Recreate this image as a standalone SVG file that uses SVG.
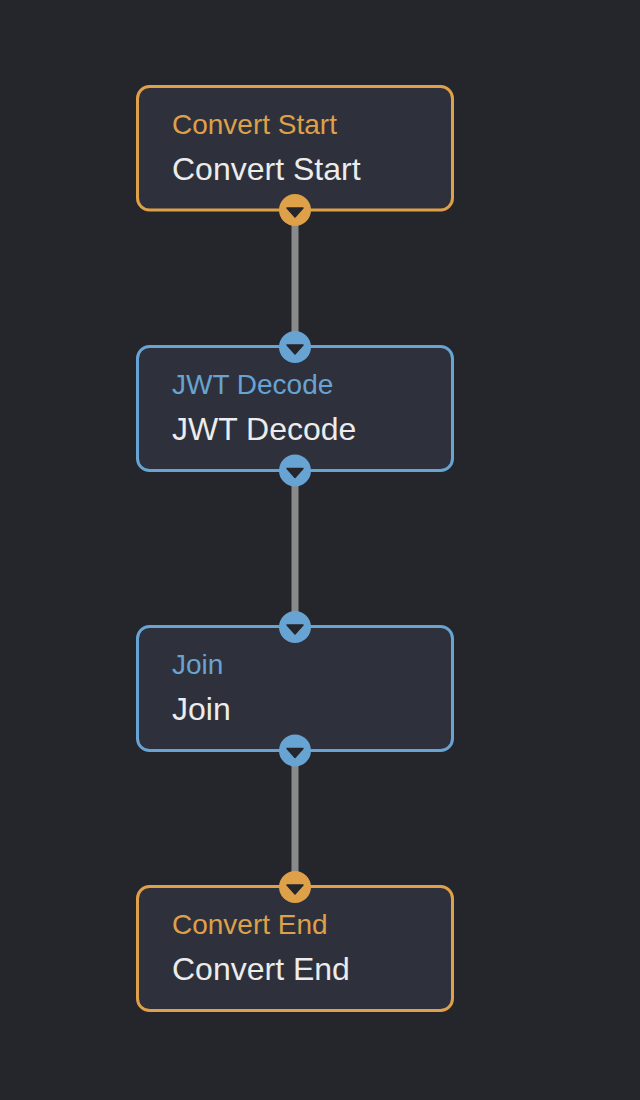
<svg xmlns="http://www.w3.org/2000/svg" width="640" height="1100" viewBox="0 0 640 1100">
  <defs>
    <style>
      .bg { fill: #25262b; }
      .node { fill: #2e313b; stroke-width: 3; }
      .orange { stroke: #dea048; }
      .blue { stroke: #67a3d3; }
      .port-o { fill: #dea048; }
      .port-b { fill: #67a3d3; }
      .tri { fill: #25262b; stroke: #25262b; stroke-width: 1.5; stroke-linejoin: round; }
      .title { font-family: "Liberation Sans", Arial, sans-serif; font-size: 28px; }
      .t-o { fill: #dea048; }
      .t-b { fill: #67a3d3; }
      .label { font-family: "Liberation Sans", Arial, sans-serif; font-size: 32px; fill: #ececec; }
      .edge { stroke: #8a8a8a; stroke-width: 7; fill: none; }
    </style>
    <path id="tri" class="tri" d="M-8,-2 L8,-2 L0,7 Z"/>
  </defs>
  <rect class="bg" x="0" y="0" width="640" height="1100"/>

  <g id="connectors">
    <line class="edge" x1="295" y1="210" x2="295" y2="347"/>
    <line class="edge" x1="295" y1="470.5" x2="295" y2="627"/>
    <line class="edge" x1="295" y1="750.5" x2="295" y2="887"/>
  </g>

  <g id="node-convert-start">
    <rect class="node orange" x="137.5" y="86.5" width="315" height="123.5" rx="12"/>
    <text class="title t-o" x="172" y="134">Convert Start</text>
    <text class="label" x="172" y="179.5">Convert Start</text>
    <circle class="port-o" cx="295" cy="210" r="16"/>
    <use href="#tri" x="295" y="210"/>
  </g>

  <g id="node-jwt-decode">
    <rect class="node blue" x="137.5" y="346.5" width="315" height="124" rx="12"/>
    <text class="title t-b" x="172" y="393.5">JWT Decode</text>
    <text class="label" x="172" y="439.5">JWT Decode</text>
    <circle class="port-b" cx="295" cy="347" r="16"/>
    <use href="#tri" x="295" y="347"/>
    <circle class="port-b" cx="295" cy="470.5" r="16"/>
    <use href="#tri" x="295" y="470.5"/>
  </g>

  <g id="node-join">
    <rect class="node blue" x="137.5" y="626.5" width="315" height="124" rx="12"/>
    <text class="title t-b" x="172" y="673.5">Join</text>
    <text class="label" x="172" y="719.5">Join</text>
    <circle class="port-b" cx="295" cy="627" r="16"/>
    <use href="#tri" x="295" y="627"/>
    <circle class="port-b" cx="295" cy="750.5" r="16"/>
    <use href="#tri" x="295" y="750.5"/>
  </g>

  <g id="node-convert-end">
    <rect class="node orange" x="137.5" y="886.5" width="315" height="124" rx="12"/>
    <text class="title t-o" x="172" y="933.5">Convert End</text>
    <text class="label" x="172" y="979.5">Convert End</text>
    <circle class="port-o" cx="295" cy="887" r="16"/>
    <use href="#tri" x="295" y="887"/>
  </g>
</svg>
